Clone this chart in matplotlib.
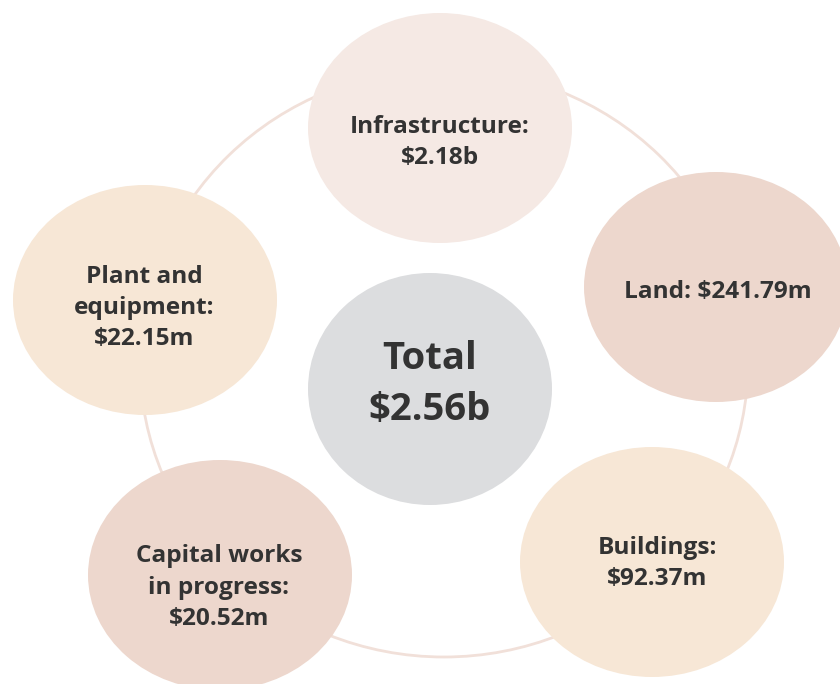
import matplotlib
matplotlib.use("Agg")
import matplotlib.pyplot as plt
from matplotlib.patches import Ellipse

# ---- data ----
categories = ["Infrastructure:", "Land:", "Buildings:", "Capital works\nin progress:", "Plant and\nequipment:"]
values = ["$2.18b", "$241.79m", "$92.37m", "$20.52m", "$22.15m"]
total_label = "Total"
total_value = "$2.56b"

# ---- layout (pixel coordinates, y down) ----
centers = [(440, 128), (716, 287), (652, 562), (220, 575), (145, 300)]
fills = ["#F5E9E4", "#EDD7CD", "#F7E7D6", "#EDD7CD", "#F7E7D6"]
label_lines = [
    ["Infrastructure:", "$2.18b"],
    ["Land: $241.79m"],
    ["Buildings:", "$92.37m"],
    ["Capital works", "in progress:", "$20.52m"],
    ["Plant and", "equipment:", "$22.15m"],
]
baselines = [[133, 164], [298], [554, 585], [562, 594, 625], [283, 314, 345]]
text_x = [440, 718, 657, 219, 144]

W, H = 840, 684
fig = plt.figure(figsize=(W / 100, H / 100), dpi=100)
ax = fig.add_axes([0, 0, 1, 1])
ax.set_xlim(0, W)
ax.set_ylim(H, 0)
ax.axis("off")

TXT = "#333333"
FONT = ["Open Sans", "DejaVu Sans"]

# ring
ax.add_patch(Ellipse((444, 363), 2 * 304, 2 * 294, fill=False, edgecolor="#F1E0D9", lw=2.0, zorder=1))

# outer bubbles
for (cx, cy), fc in zip(centers, fills):
    ax.add_patch(Ellipse((cx, cy), 264, 230, facecolor=fc, edgecolor="none", zorder=2))

for lines, bls, tx in zip(label_lines, baselines, text_x):
    for ln, by in zip(lines, bls):
        ax.text(tx, by, ln, ha="center", va="baseline", fontsize=17.6, fontweight="bold",
                color=TXT, family=FONT, zorder=3)

# centre bubble
ax.add_patch(Ellipse((430, 389), 244, 232, facecolor="#DCDDDF", edgecolor="none", zorder=2))
ax.text(430, 369, total_label, ha="center", va="baseline", fontsize=27.5, fontweight="bold",
        color=TXT, family=FONT, zorder=3)
ax.text(430, 420, total_value, ha="center", va="baseline", fontsize=27.5, fontweight="bold",
        color=TXT, family=FONT, zorder=3)

fig.savefig("out.png", dpi=100, facecolor="white")
